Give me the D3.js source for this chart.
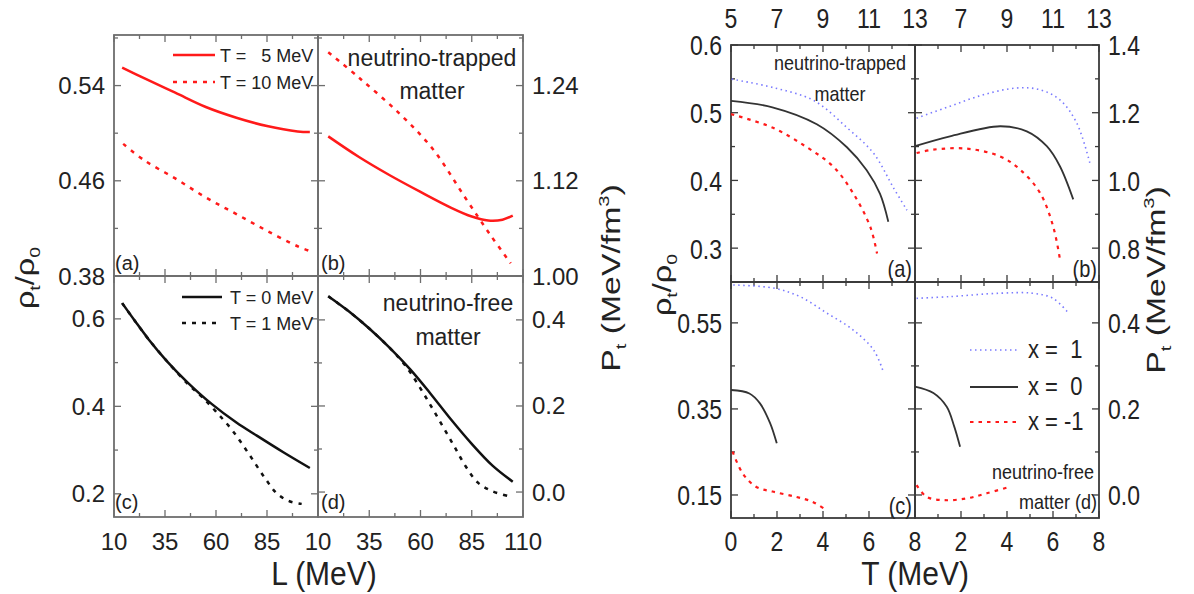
<!DOCTYPE html>
<html>
<head>
<meta charset="utf-8">
<script src="https://cdn.jsdelivr.net/npm/d3@7"></script>
<style>
  body { margin: 0; background: #fff; }
  svg { display: block; font-family: "Liberation Sans", Arial, sans-serif; }
  text { white-space: pre; }
</style>
</head>
<body>
<svg id="chart" width="1194" height="594"></svg>
<script>
// ---- data ----
// left figure: transition density / pressure vs L
const L_rho_T5  = [[14,0.555],[25,0.546],[40,0.534],[55,0.522],[70,0.513],[85,0.506],[100,0.5015],[106,0.501]];
const L_rho_T10 = [[14.5,0.491],[25,0.477],[40,0.462],[55,0.446],[70,0.432],[85,0.418],[100,0.405],[106,0.401]];
const L_P_T5    = [[15,1.176],[30,1.150],[45,1.127],[60,1.106],[75,1.086],[85,1.075],[93,1.070],[100,1.071],[105,1.076]];
const L_P_T10   = [[15,1.282],[30,1.250],[50,1.204],[66,1.160],[82,1.098],[94,1.052],[104,1.016]];
const L_rho_T0  = [[14,0.636],[20,0.597],[27,0.553],[36,0.503],[46,0.455],[58,0.405],[70,0.363],[80,0.333],[93,0.295],[106,0.259]];
const L_rho_T1  = [[14,0.636],[20,0.597],[27,0.553],[36,0.503],[46,0.452],[53,0.422],[60,0.388],[68,0.345],[76,0.292],[84,0.236],[90,0.200],[96,0.183],[102,0.177]];
const L_P_T0    = [[15,0.455],[25,0.42],[35,0.38],[45,0.335],[55,0.285],[65,0.228],[75,0.168],[85,0.112],[95,0.062],[105,0.024]];
const L_P_T1    = [[15,0.455],[25,0.42],[35,0.38],[45,0.335],[50,0.309],[55,0.278],[62,0.225],[69,0.168],[76,0.110],[82,0.060],[88,0.022],[95,0.002],[105,-0.012]];

// right figure: vs temperature T, for x = 1, 0, -1
const T_rho_trap_x1  = [[0.03,0.5496],[1.85,0.537],[3.6,0.518],[5.04,0.478],[6.2,0.44],[7.05,0.39],[7.65,0.356]];
const T_rho_trap_x0  = [[0,0.5176],[1.8,0.508],[3.73,0.483],[5.04,0.449],[5.9,0.415],[6.48,0.38],[6.84,0.339]];
const T_rho_trap_xm1 = [[0,0.498],[1.8,0.478],[3.3,0.449],[4.46,0.42],[5.33,0.38],[6.06,0.331],[6.35,0.292]];
const T_P_trap_x1    = [[0.07,1.184],[1.52,1.219],[2.97,1.253],[4.42,1.273],[5.43,1.268],[6.3,1.238],[7.03,1.17],[7.6,1.052]];
const T_P_trap_x0    = [[0,1.101],[1.52,1.13],[3.7,1.16],[4.86,1.145],[5.73,1.101],[6.3,1.042],[6.88,0.944]];
const T_P_trap_xm1   = [[0.07,1.081],[0.8,1.091],[2.25,1.094],[3.7,1.071],[4.57,1.032],[5.43,0.964],[6.0,0.866],[6.3,0.768]];
const T_rho_free_x1  = [[0.1,0.638],[1.84,0.631],[3.0,0.611],[4.16,0.573],[5.3,0.534],[6.2,0.487],[6.6,0.44]];
const T_rho_free_x0  = [[0,0.394],[0.8,0.386],[1.26,0.363],[1.7,0.317],[1.99,0.27]];
const T_rho_free_xm1 = [[0.07,0.251],[0.51,0.2],[1.09,0.169],[1.8,0.158],[2.8,0.146],[3.55,0.134],[4.13,0.115]];
const T_P_free_x1    = [[0.07,0.457],[1.52,0.461],[3.7,0.469],[5.1,0.469],[6.0,0.457],[6.67,0.423]];
const T_P_free_x0    = [[0,0.252],[0.8,0.237],[1.38,0.205],[1.7,0.16],[1.96,0.112]];
const T_P_free_xm1   = [[0.07,0.023],[0.5,-0.004],[1.23,-0.012],[2.25,-0.008],[3.12,0.004],[4.13,0.019]];

const L_ticks = [10, 35, 60, 85, 110];
const T_ticks = [0, 2, 4, 6, 8];
const T_topLabels = [5, 7, 9, 11, 13];

const svg = d3.select("#chart");

// horizontal text, optionally stretched vertically (the source figure is a bit squashed)
function label(x, y, txt, size, anchor, sy, color) {
  return svg.append("text")
    .attr("transform", `translate(${x},${y}) scale(1,${sy || 1})`)
    .attr("font-size", size).attr("text-anchor", anchor || "start")
    .attr("fill", color || "#222").text(txt);
}

// draws one framed panel with inward ticks on all four sides
function drawPanel(p) {
  const x = d3.scaleLinear().domain(p.xDomain).range([p.x0, p.x1]);
  const y = d3.scaleLinear().domain(p.yDomain).range([p.y1, p.y0]);
  const g = svg.append("g");
  const frameColor = p.frame;

  const tick = (x1, y1, x2, y2) => g.append("line")
    .attr("x1", x1).attr("y1", y1).attr("x2", x2).attr("y2", y2)
    .attr("stroke", frameColor).attr("stroke-width", 1.3);

  p.xMajor.forEach(v => { tick(x(v), p.y1, x(v), p.y1 - 7); tick(x(v), p.y0, x(v), p.y0 + 7); });
  p.xMinor.forEach(v => { tick(x(v), p.y1, x(v), p.y1 - 4); tick(x(v), p.y0, x(v), p.y0 + 4); });
  p.yMajor.forEach(v => { tick(p.x0, y(v), p.x0 + 7, y(v)); tick(p.x1, y(v), p.x1 - 7, y(v)); });
  p.yMinor.forEach(v => { tick(p.x0, y(v), p.x0 + 4, y(v)); tick(p.x1, y(v), p.x1 - 4, y(v)); });

  g.append("rect")
    .attr("x", p.x0).attr("y", p.y0)
    .attr("width", p.x1 - p.x0).attr("height", p.y1 - p.y0)
    .attr("fill", "none").attr("stroke", frameColor).attr("stroke-width", 1.8);

  const sy = p.textStretch || 1;
  if (p.yLabelSide) {
    const fmt = d3.format(p.yFormat);
    p.yMajor.forEach(v => {
      label(p.yLabelSide === "left" ? p.x0 - 9 : p.x1 + 9, y(v) + 8.5 * sy, fmt(v), p.tickFont,
        p.yLabelSide === "left" ? "end" : "start", sy);
    });
  }
  if (p.xBottomLabels) {
    p.xBottomLabels.forEach(v => label(x(v), p.y1 + 33, String(v), p.tickFont, "middle", sy));
  }
  if (p.xTopLabels) {
    p.xTopLabels.forEach(([v, lab]) => label(x(v), p.y0 - 17, String(lab), p.tickFont, "middle", sy));
  }

  const line = d3.line().x(d => x(d[0])).y(d => y(d[1])).curve(d3.curveCatmullRom.alpha(0.5));
  p.series.forEach(s => {
    g.append("path")
      .attr("d", line(s.data))
      .attr("fill", "none")
      .attr("stroke", s.color)
      .attr("stroke-width", s.width)
      .attr("stroke-dasharray", s.dash || null);
  });
  return { g, x, y };
}

// ---- left figure ----
const red = "#ff1a1a", black = "#111", blue = "#7a7aff";
const LminorX = [22.5, 47.5, 72.5, 97.5];
const leftBase = { xDomain: [10, 110], xMajor: L_ticks, xMinor: LminorX, tickFont: 24, textStretch: 1.0, frame: "#6e6e6e" };

drawPanel({ ...leftBase, x0: 114, x1: 318, y0: 35, y1: 276, yDomain: [0.38, 0.5825],
  yMajor: [0.38, 0.46, 0.54], yMinor: [0.42, 0.50, 0.58], yLabelSide: "left", yFormat: ".2f",
  series: [
    { data: L_rho_T5, color: red, width: 2.5 },
    { data: L_rho_T10, color: red, width: 2.5, dash: "4,6" }
  ] });
drawPanel({ ...leftBase, x0: 318, x1: 523, y0: 35, y1: 276, yDomain: [1.0, 1.30375],
  yMajor: [1.00, 1.12, 1.24], yMinor: [1.06, 1.18, 1.30], yLabelSide: "right", yFormat: ".2f",
  series: [
    { data: L_P_T5, color: red, width: 2.5 },
    { data: L_P_T10, color: red, width: 2.5, dash: "4,6" }
  ] });
drawPanel({ ...leftBase, x0: 114, x1: 318, y0: 276, y1: 517, yDomain: [0.147, 0.698],
  yMajor: [0.2, 0.4, 0.6], yMinor: [0.3, 0.5], yLabelSide: "left", yFormat: ".1f",
  xBottomLabels: [10, 35, 60, 85],
  series: [
    { data: L_rho_T0, color: black, width: 2.5 },
    { data: L_rho_T1, color: black, width: 2.5, dash: "4,6" }
  ] });
drawPanel({ ...leftBase, x0: 318, x1: 523, y0: 276, y1: 517, yDomain: [-0.058, 0.502],
  yMajor: [0.0, 0.2, 0.4], yMinor: [0.1, 0.3], yLabelSide: "right", yFormat: ".1f",
  xBottomLabels: [10, 35, 60, 85, 110],
  series: [
    { data: L_P_T0, color: black, width: 2.5 },
    { data: L_P_T1, color: black, width: 2.5, dash: "4,6" }
  ] });

// ---- right figure ----
const TminorX = [1, 3, 5, 7];
const rightBase = { xDomain: [0, 8], xMajor: T_ticks, xMinor: TminorX, tickFont: 23, textStretch: 1.22, frame: "#3a3a3a" };
const topPairs = T_ticks.map((t, i) => [t, T_topLabels[i]]);

const rightSeries = (x1, x0, xm1) => [
  { data: x1, color: blue, width: 1.6, dash: "1.5,3.5" },
  { data: x0, color: "#333", width: 1.8 },
  { data: xm1, color: red, width: 2.2, dash: "3.5,5" }
];

drawPanel({ ...rightBase, x0: 731, x1: 915, y0: 45, y1: 282, yDomain: [0.25, 0.6],
  yMajor: [0.3, 0.4, 0.5, 0.6], yMinor: [0.35, 0.45, 0.55], yLabelSide: "left", yFormat: ".1f",
  xTopLabels: topPairs,
  series: rightSeries(T_rho_trap_x1, T_rho_trap_x0, T_rho_trap_xm1) });
drawPanel({ ...rightBase, x0: 915, x1: 1099, y0: 45, y1: 282, yDomain: [0.7, 1.4],
  yMajor: [0.8, 1.0, 1.2, 1.4], yMinor: [0.9, 1.1, 1.3], yLabelSide: "right", yFormat: ".1f",
  xTopLabels: topPairs.slice(1),
  series: rightSeries(T_P_trap_x1, T_P_trap_x0, T_P_trap_xm1) });
drawPanel({ ...rightBase, x0: 731, x1: 915, y0: 282, y1: 518, yDomain: [0.0965, 0.645],
  yMajor: [0.15, 0.35, 0.55], yMinor: [0.25, 0.45], yLabelSide: "left", yFormat: ".2f",
  xBottomLabels: [0, 2, 4, 6, 8],
  series: rightSeries(T_rho_free_x1, T_rho_free_x0, T_rho_free_xm1) });
drawPanel({ ...rightBase, x0: 915, x1: 1099, y0: 282, y1: 518, yDomain: [-0.0535, 0.495],
  yMajor: [0.0, 0.2, 0.4], yMinor: [0.1, 0.3], yLabelSide: "right", yFormat: ".1f",
  xBottomLabels: [2, 4, 6, 8],
  series: rightSeries(T_P_free_x1, T_P_free_x0, T_P_free_xm1) });

// ---- annotations ----
function legendLine(x1, x2, y, color, width, dash) {
  svg.append("line").attr("x1", x1).attr("x2", x2).attr("y1", y).attr("y2", y)
    .attr("stroke", color).attr("stroke-width", width).attr("stroke-dasharray", dash || null);
}

// left figure legends and notes
legendLine(173, 215, 55, red, 2.5);
label(220, 62, "T =   5 MeV", 18);
legendLine(173, 215, 82, red, 2.5, "4,6");
label(220, 89, "T = 10 MeV", 18);
legendLine(182, 222, 297, black, 2.5);
label(230, 304, "T = 0 MeV", 18);
legendLine(182, 222, 323, black, 2.5, "4,6");
label(230, 330, "T = 1 MeV", 18);

label(432, 66, "neutrino-trapped", 23, "middle");
label(432, 99, "matter", 23, "middle");
label(448, 311, "neutrino-free", 23, "middle");
label(448, 345, "matter", 23, "middle");

label(115, 270, "(a)", 20);
label(321, 270, "(b)", 20);
label(115, 509, "(c)", 20);
label(321, 509, "(d)", 20);

// right figure legend and notes
legendLine(970, 1018, 350, blue, 1.6, "1.5,3.5");
label(1028, 358, "x =  1", 22, "start", 1.15);
legendLine(970, 1018, 387, "#333", 1.8);
label(1028, 395, "x =  0", 22, "start", 1.15);
legendLine(970, 1018, 422, red, 2.2, "3.5,5");
label(1028, 430, "x = -1", 22, "start", 1.15);

label(840, 70, "neutrino-trapped", 18, "middle", 1.15);
label(840, 101, "matter", 18, "middle", 1.15);
label(1094, 479, "neutrino-free", 18, "end", 1.15);
label(1097, 509, "matter (d)", 18, "end", 1.15);

label(912, 277, "(a)", 20, "end", 1.2);
label(1097, 277, "(b)", 20, "end", 1.2);
label(912, 514, "(c)", 20, "end", 1.2);

// axis titles
label(324, 585, "L (MeV)", 30, "middle", 1.1);
label(915, 585, "T (MeV)", 30, "middle", 1.1);

// rotated titles, stretched along their length like the source
function yTitle(x, y, stretch, parts) {
  const t = svg.append("text")
    .attr("transform", `translate(${x},${y}) rotate(-90) scale(${stretch},1)`)
    .attr("text-anchor", "middle").attr("font-size", 25).attr("fill", "#222");
  parts.forEach(([s, sub]) => {
    const ts = t.append("tspan").text(s);
    if (sub === "sub") ts.attr("font-size", 15).attr("dy", 6);
    else if (sub === "sup") ts.attr("font-size", 15).attr("dy", -11);
    else if (sub === "back") ts.attr("dy", -6);
    else if (sub === "backsup") ts.attr("dy", 11);
  });
}
yTitle(34, 278, 1.3, [["ρ"], ["t", "sub"], ["/ρ", "back"], ["0", "sub"]]);
yTitle(620, 278, 1.35, [["P"], ["t", "sub"], [" (MeV/fm", "back"], ["3", "sup"], [")", "backsup"]]);
yTitle(671, 285, 1.3, [["ρ"], ["t", "sub"], ["/ρ", "back"], ["0", "sub"]]);
yTitle(1165, 280, 1.35, [["P"], ["t", "sub"], [" (MeV/fm", "back"], ["3", "sup"], [")", "backsup"]]);
</script>
</body>
</html>
